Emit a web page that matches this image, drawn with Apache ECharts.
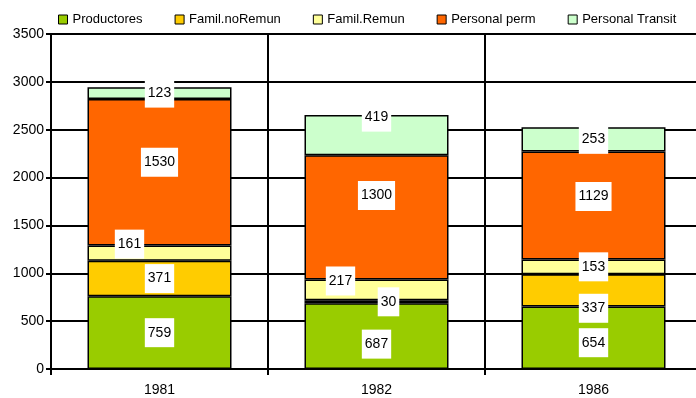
<!DOCTYPE html>
<html>
<head>
<meta charset="utf-8">
<script src="https://cdn.jsdelivr.net/npm/echarts@6/dist/echarts.min.js"></script>
<style>html,body{margin:0;padding:0;background:#fff}#c{width:696px;height:398px}</style>
</head>
<body>
<div id="c"></div>
<script>
const categories = ['1981', '1982', '1986'];
const seriesNames = ['Productores', 'Famil.noRemun', 'Famil.Remun', 'Personal perm', 'Personal Transit'];
const productores = [759, 687, 654];
const familNoRemun = [371, 30, 337];
const familRemun = [161, 217, 153];
const personalPerm = [1530, 1300, 1129];
const personalTransit = [123, 419, 253];
const yTicks = [0, 500, 1000, 1500, 2000, 2500, 3000, 3500];

const values = [productores, familNoRemun, familRemun, personalPerm, personalTransit];
const colors = ['#99CC00', '#FFCC00', '#FFFF99', '#FF6600', '#CCFFCC'];
// label nudges (style only), [seriesIndex][categoryIndex] -> [dx, dy]
const labelNudge = [
  [[0,0],[0,8],[0,5]],
  [[0,0],[12,0],[0,18]],
  [[-30,-9],[-36,-9],[0,0]],
  [[0,-10],[0,-22],[0,-9]],
  [[0,0],[0,-18],[0,0]]
];

const chart = echarts.init(document.getElementById('c'), null, {renderer: 'canvas'});
const font = 'Liberation Sans, Arial, sans-serif';
const series = seriesNames.map((name, si) => ({
  name: name,
  type: 'bar',
  stack: 'total',
  barWidth: 144,
  itemStyle: {color: colors[si], borderColor: '#000', borderWidth: 1.5},
  label: {
    show: true, position: 'inside', formatter: '{c}',
    color: '#000', fontFamily: font, fontSize: 14, lineHeight: 15,
    backgroundColor: '#fff', padding: [7, 3]
  },
  data: values[si].map((v, ci) => ({value: v, label: {offset: labelNudge[si][ci]}}))
}));

chart.setOption({
  animation: false,
  backgroundColor: '#fff',
  legend: {
    data: seriesNames.map(n => ({name: n, icon: 'rect'})),
    top: 8, left: 53,
    itemWidth: 9, itemHeight: 9, itemGap: 32,
    itemStyle: {borderColor: '#000', borderWidth: 1},
    textStyle: {fontFamily: font, fontSize: 13, color: '#000'}
  },
  grid: {left: 51, right: -6, top: 34, bottom: 29, containLabel: false, outerBoundsMode: 'none'},
  xAxis: {
    type: 'category', data: categories,
    axisLine: {show: true, lineStyle: {color: '#000', width: 2}},
    axisTick: {show: true, length: 6, interval: 0, lineStyle: {color: '#000', width: 2}},
    splitLine: {show: true, interval: 0, lineStyle: {color: '#000', width: 2}},
    axisLabel: {fontFamily: font, fontSize: 14, color: '#000', margin: 14}
  },
  yAxis: {
    type: 'value', min: yTicks[0], max: yTicks[yTicks.length - 1], interval: yTicks[1] - yTicks[0],
    axisLine: {show: true, lineStyle: {color: '#000', width: 2}},
    axisTick: {show: true, length: 5, lineStyle: {color: '#000', width: 2}},
    splitLine: {show: true, lineStyle: {color: '#000', width: 2}},
    axisLabel: {fontFamily: font, fontSize: 14, color: '#000', margin: 7, formatter: v => String(v)}
  },
  series: series
});
</script>
</body>
</html>
